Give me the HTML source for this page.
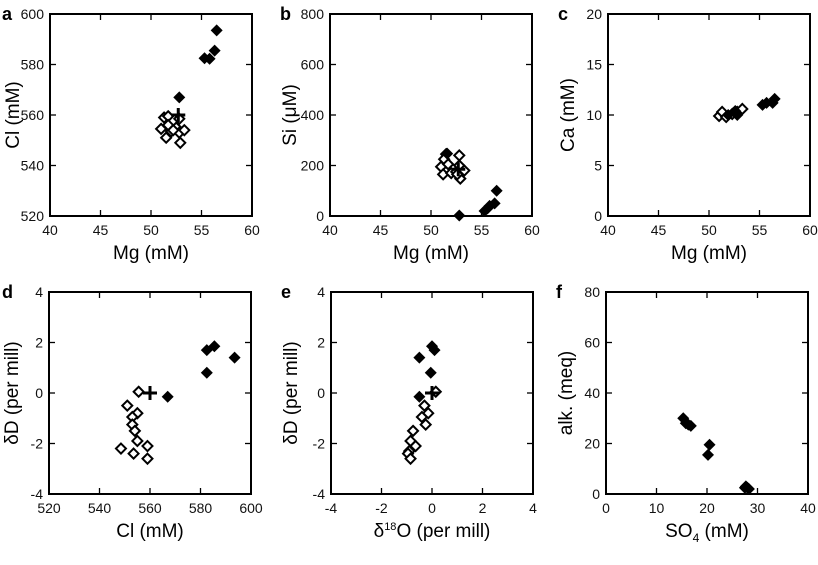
<!DOCTYPE html>
<html><head><meta charset="utf-8">
<style>
html,body{margin:0;padding:0;background:#fff;}
svg{display:block;font-family:"Liberation Sans",Arial,sans-serif;}
</style></head>
<body>
<svg id="fig" width="818" height="565" viewBox="0 0 818 565" xmlns="http://www.w3.org/2000/svg"></svg>
<script>
// ---- data ----
const aOpenMg=[51.3,51.7,52.8,51,51.5,52,52.5,52.8,53.3,52.9,51.7,52.2];
const aOpenCl=[559,559.5,558.5,554.5,551,553.5,555,553,554,549,556,554];
const aFillMg=[56.5,56.3,55.3,55.8,52.8];
const aFillCl=[593.5,585.5,582.5,582.3,567];
const aCross=[52.7,560];

const bOpenMg=[51.5,52.8,51.3,51,51.7,51.2,52,52.5,52.8,53.3,52.9,52.6];
const bOpenSi=[245,240,225,195,205,165,170,175,200,180,148,165];
const bFillMg=[51.6,52.8,55.3,55.6,55.8,56.3,56.5];
const bFillSi=[247,2,20,30,40,50,100];
const bCross=[52.7,185];

const cOpenMg=[51,51.3,51.7,52.3,52.8,53.3];
const cOpenCa=[9.9,10.3,9.8,10.1,10.3,10.6];
const cFillMg=[51.9,52.6,52.8,55.3,55.7,56.3,56.5];
const cFillCa=[10,10.4,10,11,11.2,11.2,11.6];

const dOpenCl=[555.5,551,555,553,553,554,555,559,548.5,553.5,559];
const dOpenD=[0.05,-0.5,-0.8,-0.95,-1.25,-1.5,-1.9,-2.1,-2.2,-2.4,-2.6];
const dFillCl=[567,582.5,585.5,582.5,593.5];
const dFillD=[-0.15,1.7,1.85,0.8,1.4];
const dCross=[560,0];

const eOpenO=[0.15,-0.3,-0.15,-0.4,-0.25,-0.75,-0.85,-0.65,-0.9,-0.95,-0.85];
const eOpenD=[0.05,-0.5,-0.8,-0.95,-1.25,-1.5,-1.9,-2.1,-2.3,-2.4,-2.6];
const eFillO=[0,0.1,-0.5,-0.05,-0.5];
const eFillD=[1.85,1.7,1.4,0.8,-0.15];
const eCross=[0,0];

const fFillSO4=[15.3,15.8,16.3,16.8,20.5,20.2,27.5,28,28.3,27.7];
const fFillAlk=[30,28,27.5,27,19.5,15.5,2.5,2.5,2,3];

const panels=[
 {id:'a',x0:50,y0:14,xt:[40,45,50,55,60],yt:[520,540,560,580,600],xl:'Mg  (mM)',yl:'Cl  (mM)',
  open:[aOpenMg,aOpenCl],fill:[aFillMg,aFillCl],cross:aCross},
 {id:'b',x0:330,y0:14,xt:[40,45,50,55,60],yt:[0,200,400,600,800],xl:'Mg  (mM)',yl:'Si  (μM)',
  open:[bOpenMg,bOpenSi],fill:[bFillMg,bFillSi],cross:bCross},
 {id:'c',x0:608,y0:14,xt:[40,45,50,55,60],yt:[0,5,10,15,20],xl:'Mg  (mM)',yl:'Ca  (mM)',
  open:[cOpenMg,cOpenCa],fill:[cFillMg,cFillCa],cross:null},
 {id:'d',x0:49,y0:292,xt:[520,540,560,580,600],yt:[-4,-2,0,2,4],xl:'Cl  (mM)',yl:'δD  (per mill)',
  open:[dOpenCl,dOpenD],fill:[dFillCl,dFillD],cross:dCross},
 {id:'e',x0:331,y0:292,xt:[-4,-2,0,2,4],yt:[-4,-2,0,2,4],xl:'δ18O',yl:'δD  (per mill)',
  open:[eOpenO,eOpenD],fill:[eFillO,eFillD],cross:eCross},
 {id:'f',x0:606,y0:292,xt:[0,10,20,30,40],yt:[0,20,40,60,80],xl:'SO4',yl:'alk.  (meq)',
  open:null,fill:[fFillSO4,fFillAlk],cross:null}
];
const W=202,H=202,NS='http://www.w3.org/2000/svg';
const svg=document.getElementById('fig');
function mk(tag,attrs,parent){const e=document.createElementNS(NS,tag);for(const k in attrs)e.setAttribute(k,attrs[k]);(parent||svg).appendChild(e);return e;}

panels.forEach(p=>{
 const g=mk('g',{});
 
 
 const xmin=p.xt[0],xmax=p.xt[p.xt.length-1],ymin=p.yt[0],ymax=p.yt[p.yt.length-1];
 const sx=v=>p.x0+(v-xmin)/(xmax-xmin)*W;
 const sy=v=>p.y0+H-(v-ymin)/(ymax-ymin)*H;
 const lt=mk('text',{x:p.id==='a'||p.id==='d'?2:p.x0-50,y:p.y0+6,'font-size':18,'font-weight':'bold'},g);
 lt.textContent=p.id;
 
 
 const box=mk('rect',{x:p.x0,y:p.y0,width:W,height:H,fill:'none',stroke:'#000','stroke-width':2},g);
 
 
 p.xt.forEach(v=>{
  const x=sx(v);
  mk('line',{x1:x,y1:p.y0+H,x2:x,y2:p.y0+H-6,stroke:'#000','stroke-width':1.3},g);
  mk('line',{x1:x,y1:p.y0,x2:x,y2:p.y0+6,stroke:'#000','stroke-width':1.3},g);
  const t=mk('text',{x:x,y:p.y0+H+19,'font-size':14,'text-anchor':'middle',fill:'#111'},g);
  t.textContent=v;
  
  
 });
 p.yt.forEach(v=>{
  const y=sy(v);
  mk('line',{x1:p.x0,y1:y,x2:p.x0+6,y2:y,stroke:'#000','stroke-width':1.3},g);
  mk('line',{x1:p.x0+W,y1:y,x2:p.x0+W-6,y2:y,stroke:'#000','stroke-width':1.3},g);
  const t=mk('text',{x:p.x0-6,y:y+5,'font-size':14,'text-anchor':'end',fill:'#111'},g);
  t.textContent=v;
  
  
 });
 const xt=mk('text',{x:p.x0+W/2,y:p.y0+H+43,'font-size':19,'text-anchor':'middle'},g);
 if(p.xl==='δ18O'){xt.innerHTML='δ<tspan font-size="11" dy="-7">18</tspan><tspan dy="7">O  (per mill)</tspan>';}
 else if(p.xl==='SO4'){xt.innerHTML='SO<tspan font-size="12" dy="5">4</tspan><tspan dy="-5">  (mM)</tspan>';}
 else xt.textContent=p.xl;
 xt.setAttribute('xml:space','preserve');
 
 
 const ycx=(p.id==='a'||p.id==='d')?p.x0-31:p.x0-34;
 const yt=mk('text',{x:ycx,y:p.y0+H/2,'font-size':19,'text-anchor':'middle',transform:'rotate(-90 '+ycx+' '+(p.y0+H/2)+')'},g);
 yt.setAttribute('xml:space','preserve');
 yt.textContent=p.yl;
 
 
 const dia=(x,y,r)=>`M${x},${y-r} L${x+r},${y} L${x},${y+r} L${x-r},${y} Z`;
 if(p.open){p.open[0].forEach((v,i)=>{
  const m=mk('path',{d:dia(sx(v),sy(p.open[1][i]),5),fill:'#fff',stroke:'#000','stroke-width':2},g);
  
  
 });}
 if(p.fill){p.fill[0].forEach((v,i)=>{
  const m=mk('path',{d:dia(sx(v),sy(p.fill[1][i]),6),fill:'#000'},g);
  
  
 });}
 if(p.cross){
  const cx=sx(p.cross[0]),cy=sy(p.cross[1]);
  const c=mk('path',{d:`M${cx-7},${cy} H${cx+7} M${cx},${cy-7} V${cy+7}`,stroke:'#000','stroke-width':3},g);
  
  
 }
});
</script>
</body></html>
